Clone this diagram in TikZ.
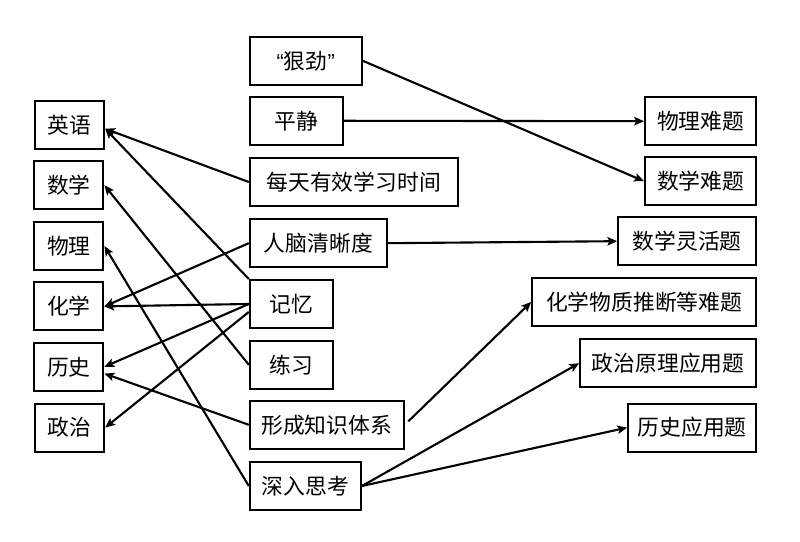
\documentclass[tikz,border=0pt]{standalone}
\usepackage{fontspec}
\setmainfont{Noto Sans CJK SC}
\newfontfamily\quotefont{Liberation Sans}
\usetikzlibrary{arrows.meta,positioning}

\begin{document}
\begin{tikzpicture}[
    box/.style={draw, line width=1.4pt, minimum height=1.2cm, inner sep=2pt, font=\fontsize{15.5}{18}\selectfont},
    link/.style={line width=1.5pt, -{Stealth[length=7pt,width=6pt,inset=1.5pt]}}
  ]
  \useasboundingbox (0,0) rectangle (20,13.55);
  % Subjects on the left
  \node[box, minimum width=1.73cm] (english) at (1.74,10.43) {英语};
  \node[box, minimum width=1.73cm] (maths)   at (1.72,8.92)  {数学};
  \node[box, minimum width=1.73cm] (physics) at (1.72,7.4)   {物理};
  \node[box, minimum width=1.73cm] (chem)    at (1.72,5.89)  {化学};
  \node[box, minimum width=1.73cm] (history) at (1.72,4.38)  {历史};
  \node[box, minimum width=1.73cm] (politics) at (1.74,2.86) {政治};
  % Factors in the middle
  \node[box, anchor=west, minimum width=2.8cm]  (effort)   at (6.22,12.03) {{\quotefont“}狠劲{\quotefont”}};
  \node[box, anchor=west, minimum width=2.33cm] (calm)     at (6.22,10.53) {平静};
  \node[box, anchor=west, minimum width=5.2cm]  (daily)    at (6.22,9.0)   {每天有效学习时间};
  \node[box, anchor=west, minimum width=3.43cm] (clear)    at (6.22,7.47)  {人脑清晰度};
  \node[box, anchor=west, minimum width=2.08cm] (memory)   at (6.22,5.95)  {记忆};
  \node[box, anchor=west, minimum width=2.08cm] (practice) at (6.22,4.43)  {练习};
  \node[box, anchor=west, minimum width=3.85cm] (system)   at (6.22,2.93)  {形成知识体系};
  \node[box, anchor=west, minimum width=2.78cm] (think)    at (6.22,1.4)   {深入思考};
  % Question types on the right
  \node[box, anchor=east, minimum width=2.78cm] (physq)   at (18.93,10.52) {物理难题};
  \node[box, anchor=east, minimum width=2.78cm] (mathq)   at (18.93,9.02)  {数学难题};
  \node[box, anchor=east, minimum width=3.45cm] (flexq)   at (18.93,7.52)  {数学灵活题};
  \node[box, anchor=east, minimum width=5.6cm]  (chemq)   at (18.93,6.0)   {化学物质推断等难题};
  \node[box, anchor=east, minimum width=4.4cm]  (polq)    at (18.93,4.47)  {政治原理应用题};
  \node[box, anchor=east, minimum width=3.2cm]  (histq)   at (18.93,2.86)  {历史应用题};
  % Factors pointing to subjects
  \draw[link] (daily.west) -- ([yshift=-0.1cm]english.east);
  \draw[link] (memory.north west) -- ([yshift=-0.1cm]english.east);
  \draw[link] (practice.west) -- (maths.east);
  \draw[link] (think.west) -- (physics.east);
  \draw[link] (clear.west) -- (chem.east);
  \draw[link] (memory.west) -- (chem.east);
  \draw[link] (memory.west) -- (history.east);
  \draw[link] ([yshift=-0.2cm]memory.west) -- (politics.east);
  \draw[link] (system.west) -- ([yshift=-0.17cm]history.east);
  % Factors pointing to question types
  \draw[link] (effort.east) -- (mathq.west);
  \draw[link] (calm.east) -- (physq.west);
  \draw[link] (clear.east) -- (flexq.west);
  \draw[link, shorten <=0.12cm] (system.east) -- (chemq.west);
  \draw[link] (think.east) -- (polq.west);
  \draw[link] (think.east) -- (histq.west);
\end{tikzpicture}
\end{document}
